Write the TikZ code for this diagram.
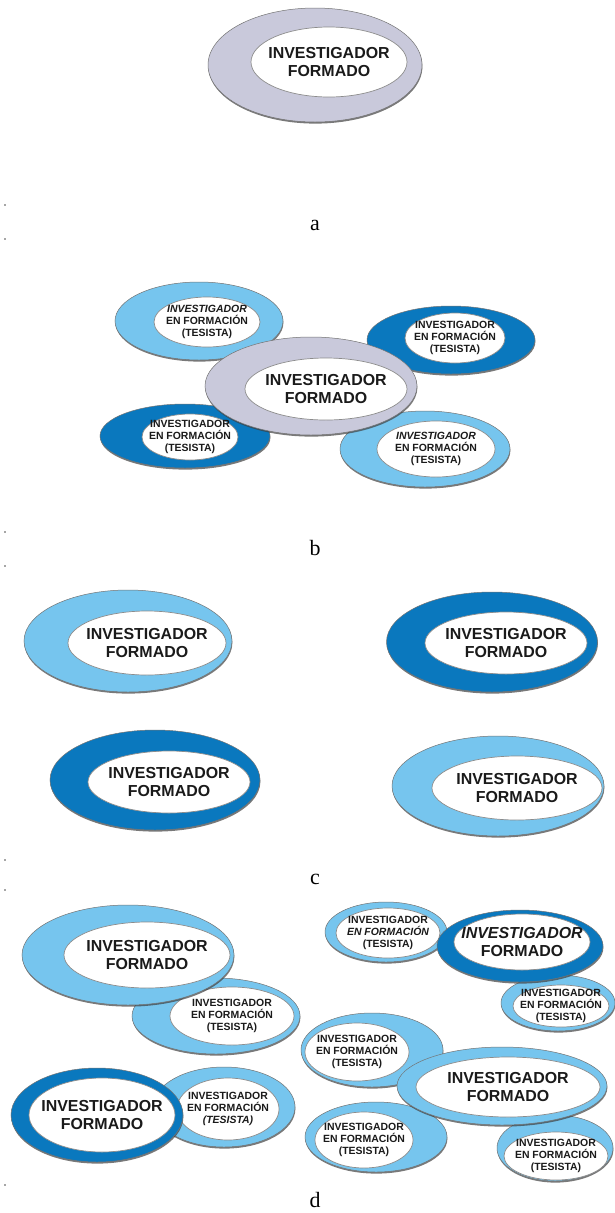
\documentclass[tikz,border=0pt]{standalone}
\usepackage{fontspec}
\setmainfont{Liberation Serif}
\newfontfamily\ringfont{Liberation Sans}
\usetikzlibrary{shapes.geometric,shadows}
\definecolor{skyring}{HTML}{76C5EE}
\definecolor{deepring}{HTML}{0A78BE}
\definecolor{greyring}{HTML}{C9C9DB}
\definecolor{inktext}{HTML}{1A1A1A}

\begin{document}
\begin{tikzpicture}[x=1bp,y=-1bp,
 sz/.style 2 args={minimum width=#1bp,minimum height=#2bp},
 ring/.style={ellipse,inner sep=0pt,draw=black!55,line width=0.5bp,drop shadow={shadow xshift=0.4bp,shadow yshift=-1.6bp,fill=black!75,opacity=0.7}},
 hole/.style={ellipse,inner sep=0pt,fill=white,draw=black!45,line width=0.7bp},
 big/.style={align=center,inner sep=0pt,text=inktext,font=\ringfont\bfseries\fontsize{16}{17.5}\selectfont},
 small/.style={align=center,inner sep=0pt,text=inktext,font=\ringfont\bfseries\fontsize{10.5}{12}\selectfont},
 tag/.style={anchor=base,inner sep=0.5bp,font=\fontsize{22}{24}\selectfont}]
\useasboundingbox (0,0) rectangle (615,1213);
\foreach \dy in {204,238,531,565,859,889,1184} \fill[black!35] (4,\dy) rectangle +(2,2);

% a
\node[ring,fill=greyring,sz={214}{114}] (a-out) at (315,65) {};
\node[hole,sz={156}{70},label={[big]center:{INVESTIGADOR\\FORMADO}}] (a-in) at (329,62) {};
\node[tag] (a-tag) at (315,230) {a};

% b
\node[ring,fill=skyring,sz={168}{78}] (b1-out) at (199,321) {};
\node[hole,sz={106}{50},label={[small]center:{\itshape INVESTIGADOR\\EN FORMACIÓN\\(TESISTA)}}] (b1-in) at (207,322) {};
\node[ring,fill=deepring,sz={168}{68}] (b2-out) at (451,340) {};
\node[hole,sz={100}{50},label={[small]center:{INVESTIGADOR\\EN FORMACIÓN\\(TESISTA)}}] (b2-in) at (455,338) {};
\node[ring,fill=deepring,sz={170}{64}] (b3-out) at (185,436) {};
\node[hole,sz={96}{46},label={[small]center:{INVESTIGADOR\\EN FORMACIÓN\\(TESISTA)}}] (b3-in) at (190,437) {};
\node[ring,fill=skyring,sz={170}{76}] (b4-out) at (425,449) {};
\node[hole,sz={118}{56},label={[small]center:{{\itshape INVESTIGADOR}\\EN FORMACIÓN\\(TESISTA)}}] (b4-in) at (436,449) {};
\node[ring,fill=greyring,sz={212}{98}] (b0-out) at (311,386) {};
\node[hole,sz={162}{62},label={[big]center:{INVESTIGADOR\\FORMADO}}] (b0-in) at (326,389) {};
\node[tag] (b-tag) at (315,555) {b};

% c
\node[ring,fill=skyring,sz={208}{102}] (c1-out) at (128,641) {};
\node[hole,sz={158}{64},label={[big]center:{INVESTIGADOR\\FORMADO}}] (c1-in) at (147,643) {};
\node[ring,fill=deepring,sz={211}{100}] (c2-out) at (492,642) {};
\node[hole,sz={162}{62},label={[big]center:{INVESTIGADOR\\FORMADO}}] (c2-in) at (506,643) {};
\node[ring,fill=deepring,sz={210}{100}] (c3-out) at (155,780) {};
\node[hole,sz={162}{62},label={[big]center:{INVESTIGADOR\\FORMADO}}] (c3-in) at (169,782) {};
\node[ring,fill=skyring,sz={212}{100}] (c4-out) at (498,786) {};
\node[hole,sz={170}{64},label={[big]center:{INVESTIGADOR\\FORMADO}}] (c4-in) at (517,788) {};
\node[tag] (c-tag) at (315,884) {c};

% d, left group
\node[ring,fill=skyring,sz={168}{76}] (dl2-out) at (216,1016) {};
\node[hole,sz={124}{58},label={[small]center:{INVESTIGADOR\\EN FORMACIÓN\\(TESISTA)}}] (dl2-in) at (232,1016) {};
\node[ring,fill=skyring,sz={212}{100}] (dl1-out) at (128,955) {};
\node[hole,sz={166}{66},label={[big]center:{INVESTIGADOR\\FORMADO}}] (dl1-in) at (147,955) {};
\node[ring,fill=skyring,sz={142}{80}] (dl3-out) at (224,1107) {};
\node[hole,sz={102}{62},label={[small]center:{INVESTIGADOR\\EN FORMACIÓN\\{\itshape(TESISTA)}}}] (dl3-in) at (228,1109) {};
\node[ring,fill=deepring,sz={172}{94}] (dl4-out) at (97,1115) {};
\node[hole,sz={146}{74},label={[big]center:{INVESTIGADOR\\FORMADO}}] (dl4-in) at (102,1115) {};

% d, right group
\node[ring,fill=skyring,sz={122}{60}] (dr1-out) at (386,932) {};
\node[hole,sz={104}{50},label={[small]center:{INVESTIGADOR\\{\itshape EN FORMACIÓN}\\(TESISTA)}}] (dr1-in) at (388,933) {};
\node[ring,fill=skyring,sz={114}{56}] (dr3-out) at (558,1003) {};
\node[hole,sz={96}{42},label={[small]center:{INVESTIGADOR\\EN FORMACIÓN\\(TESISTA)}}] (dr3-in) at (561,1006) {};
\node[ring,fill=deepring,sz={166}{72}] (dr2-out) at (520,946) {};
\node[hole,sz={136}{56},label={[big]center:{{\itshape INVESTIGADOR}\\FORMADO}}] (dr2-in) at (522,942) {};
\node[ring,fill=skyring,sz={142}{74}] (dr4-out) at (372,1050) {};
\node[hole,sz={104}{58},label={[small]center:{INVESTIGADOR\\EN FORMACIÓN\\(TESISTA)}}] (dr4-in) at (357,1052) {};
\node[ring,fill=skyring,sz={142}{70}] (dr5-out) at (376,1137) {};
\node[hole,sz={98}{56},label={[small]center:{INVESTIGADOR\\EN FORMACIÓN\\(TESISTA)}}] (dr5-in) at (364,1140) {};
\node[ring,fill=skyring,sz={116}{66}] (dr6-out) at (555,1148) {};
\node[hole,sz={104}{48},label={[small]center:{INVESTIGADOR\\EN FORMACIÓN\\(TESISTA)}}] (dr6-in) at (556,1156) {};
\node[ring,fill=skyring,sz={210}{78}] (dr7-out) at (502,1086) {};
\node[hole,sz={184}{60},label={[big]center:{INVESTIGADOR\\FORMADO}}] (dr7-in) at (508,1087) {};
\node[tag] (d-tag) at (315,1207) {d};
\end{tikzpicture}
\end{document}
